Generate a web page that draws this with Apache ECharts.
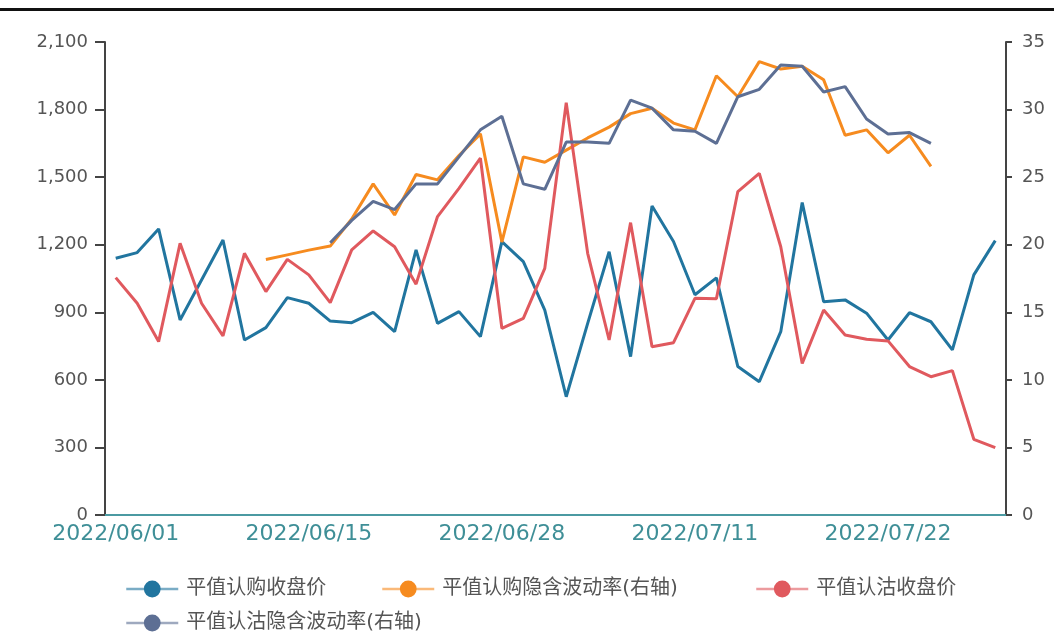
<!DOCTYPE html>
<html>
<head>
<meta charset="utf-8">
<script src="https://cdn.jsdelivr.net/npm/echarts@6/dist/echarts.min.js"></script>
<style>
html,body{margin:0;padding:0;background:#fff;}
#chart{width:1054px;height:641px;}
</style>
</head>
<body>
<div id="chart"></div>
<script>
const dates = [
  '2022/06/01','2022/06/02','2022/06/06','2022/06/07','2022/06/08','2022/06/09','2022/06/10',
  '2022/06/13','2022/06/14','2022/06/15','2022/06/16','2022/06/17','2022/06/20','2022/06/21',
  '2022/06/22','2022/06/23','2022/06/24','2022/06/27','2022/06/28','2022/06/29','2022/06/30',
  '2022/07/01','2022/07/04','2022/07/05','2022/07/06','2022/07/07','2022/07/08','2022/07/11',
  '2022/07/12','2022/07/13','2022/07/14','2022/07/15','2022/07/18','2022/07/19','2022/07/20',
  '2022/07/21','2022/07/22','2022/07/25','2022/07/26','2022/07/27','2022/07/28','2022/07/29'
];
const callClose = [1140,1165,1270,866,1043,1221,777,832,965,940,861,854,900,814,1177,851,903,792,1214,1125,910,525,851,1169,703,1372,1214,978,1053,659,592,814,1387,947,955,896,777,898,858,733,1066,1218];
const callIV = [null,null,null,null,null,null,null,18.9,19.25,19.6,19.9,21.9,24.5,22.2,25.2,24.8,26.6,28.2,20.2,26.5,26.1,27.0,27.9,28.7,29.7,30.1,29.0,28.5,32.5,30.95,33.55,33.0,33.2,32.2,28.1,28.5,26.8,28.1,25.8,null,null,null];
const putClose = [1054,940,770,1206,940,795,1162,992,1135,1066,943,1177,1261,1191,1025,1325,1450,1584,829,873,1095,1831,1162,777,1298,747,765,962,960,1436,1517,1191,673,910,799,780,773,659,614,641,336,299];
const putIV = [null,null,null,null,null,null,null,null,null,null,20.15,21.8,23.2,22.6,24.5,24.5,26.5,28.5,29.5,24.5,24.1,27.6,27.6,27.5,30.7,30.1,28.5,28.4,27.5,30.95,31.5,33.3,33.2,31.3,31.7,29.3,28.2,28.3,27.5,null,null,null];

const seriesNames = ['平值认购收盘价','平值认购隐含波动率(右轴)','平值认沽收盘价','平值认沽隐含波动率(右轴)'];
const colors = ['#21759f','#f68b1f','#e0595e','#5d6f94'];
const leftTicks = {min:0, max:2100, interval:300};
const rightTicks = {min:0, max:35, interval:5};

const chart = echarts.init(document.getElementById('chart'), null, {renderer:'canvas'});
const font = "'DejaVu Sans','Noto Sans CJK SC',sans-serif";
function legendFor(name, left, top){
  return {
    data:[name], left:left, top:top, itemWidth:52, itemHeight:21, itemGap:10,
    textStyle:{fontSize:20, color:'#555', fontFamily:font, padding:[0,0,0,3]},
    lineStyle:{width:2.5, opacity:0.6}
  };
}
function lineSeries(i, data, yIdx){
  return {
    name: seriesNames[i], type:'line', data:data, yAxisIndex:yIdx,
    symbol:'circle', showSymbol:false, symbolSize:8,
    lineStyle:{width:3, color:colors[i]}, itemStyle:{color:colors[i]},
    connectNulls:false, animation:false
  };
}
chart.setOption({
  animation:false,
  textStyle:{fontFamily:font},
  color: colors,
  graphic:[{type:'rect', left:0, top:8, shape:{width:1054, height:3}, style:{fill:'#111'}}],
  legend:[
    legendFor(seriesNames[0], 120, 574),
    legendFor(seriesNames[1], 376, 574),
    legendFor(seriesNames[2], 750, 574),
    legendFor(seriesNames[3], 120, 608)
  ],
  grid:{left:105, right:48, top:42, bottom:126, containLabel:false},
  xAxis:{
    type:'category', data:dates, boundaryGap:true,
    axisLine:{lineStyle:{color:'#4b9aa2', width:2}},
    axisTick:{interval:8, length:5, lineStyle:{color:'#4b9aa2', width:2}},
    axisLabel:{interval:8, fontSize:22, color:'#3f8f97', margin:8, fontFamily:font}
  },
  yAxis:[
    {type:'value', min:leftTicks.min, max:leftTicks.max, interval:leftTicks.interval,
     axisLine:{show:true, lineStyle:{color:'#444', width:2}},
     axisTick:{show:true, length:10, lineStyle:{color:'#444', width:2}},
     splitLine:{show:false},
     axisLabel:{fontSize:18, color:'#555', margin:17, fontFamily:font}},
    {type:'value', min:rightTicks.min, max:rightTicks.max, interval:rightTicks.interval, position:'right',
     axisLine:{show:true, lineStyle:{color:'#444', width:2}},
     axisTick:{show:true, length:6, lineStyle:{color:'#444', width:2}},
     splitLine:{show:false},
     axisLabel:{fontSize:18, color:'#555', margin:16, fontFamily:font}}
  ],
  series:[
    lineSeries(0, callClose, 0),
    lineSeries(1, callIV, 1),
    lineSeries(2, putClose, 0),
    lineSeries(3, putIV, 1)
  ]
});
</script>
</body>
</html>
